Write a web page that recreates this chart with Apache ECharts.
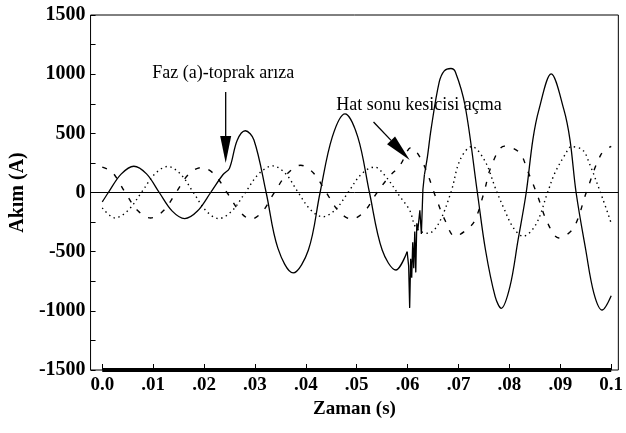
<!DOCTYPE html>
<html><head><meta charset="utf-8">
<script src="https://cdn.jsdelivr.net/npm/echarts@6/dist/echarts.min.js"></script>
<style>html,body{margin:0;padding:0;background:#fff}#c{width:626px;height:433px}</style>
</head><body><div id="c"></div>
<script>
// ---- axis ticks ----
const xTicks = [0, 0.01, 0.02, 0.03, 0.04, 0.05, 0.06, 0.07, 0.08, 0.09, 0.1];
const xTickLabels = ['0.0', '.01', '.02', '.03', '.04', '.05', '.06', '.07', '.08', '.09', '0.1'];
const yTicks = [-1500, -1000, -500, 0, 500, 1000, 1500];

// ---- phase a (solid) ----
const aTime1 = [0, 0.0012, 0.0037, 0.0062, 0.0087, 0.0112, 0.0137, 0.0162, 0.0187, 0.0213, 0.0237, 0.025, 0.0265, 0.0281, 0.0298, 0.0322, 0.0345, 0.0375, 0.0405, 0.0428, 0.0452, 0.0477, 0.0502, 0.0525, 0.055, 0.0577, 0.0599];
const aCur1 = [-80, 0, 155, 222, 157, 0, -155, -220, -157, 0, 150, 205, 440, 522, 444, 0, -470, -680, -486, 0, 470, 665, 470, 0, -486, -655, -500];
const aTime2 = [0.0599, 0.0602, 0.0604, 0.0606, 0.0608, 0.061, 0.0612, 0.0614, 0.0616, 0.0618, 0.062, 0.0624, 0.0627, 0.063, 0.0633];
const aCur2 = [-500, -620, -975, -560, -720, -420, -640, -330, -675, -260, -320, -150, -350, 25, 150];
const aTime3 = [0.0633, 0.0639, 0.0646, 0.0662, 0.0672, 0.0685, 0.0694, 0.0713, 0.0737, 0.0753, 0.0772, 0.0784, 0.0801, 0.0817, 0.0833, 0.0846, 0.0858, 0.0882, 0.0907, 0.0919, 0.0931, 0.095, 0.0966, 0.0982, 0.1];
const aCur3 = [150, 305, 534, 932, 1028, 1048, 1017, 731, 0, -486, -880, -979, -796, -401, 0, 445, 700, 1002, 700, 445, 0, -486, -852, -993, -872];

// ---- phase b (dotted) ----
const bTime = [0, 0.0025, 0.0051, 0.0077, 0.0103, 0.0129, 0.0154, 0.0179, 0.0204, 0.0229, 0.0255, 0.0281, 0.0308, 0.0335, 0.036, 0.0385, 0.0409, 0.0433, 0.0458, 0.0483, 0.0509, 0.0535, 0.0556, 0.0585, 0.0604, 0.0617, 0.064, 0.066, 0.0685, 0.0703, 0.0726, 0.0752, 0.0773, 0.0788, 0.0808, 0.0827, 0.0852, 0.0875, 0.0889, 0.0909, 0.0922, 0.0944, 0.0957, 0.0983, 0.1];
const bCur = [-130, -215, -150, 0, 155, 220, 155, 0, -155, -220, -155, 0, 160, 225, 160, 0, -145, -205, -145, 0, 155, 215, 140, -35, -150, -300, -345, -270, 0, 275, 388, 265, 30, -123, -300, -370, -270, 0, 162, 317, 387, 359, 247, -49, -260];

// ---- phase c (dashed) ----
const cTime = [0, 0.002, 0.0045, 0.007, 0.0095, 0.012, 0.0145, 0.017, 0.0195, 0.022, 0.0245, 0.027, 0.0292, 0.0315, 0.0338, 0.0364, 0.039, 0.0415, 0.044, 0.0465, 0.049, 0.0515, 0.054, 0.0563, 0.0585, 0.0607, 0.063, 0.0657, 0.0673, 0.0693, 0.072, 0.0733, 0.075, 0.0765, 0.079, 0.082, 0.0836, 0.0853, 0.0875, 0.0897, 0.0926, 0.0951, 0.098, 0.1];
const cCur = [215, 170, 0, -155, -215, -155, 0, 155, 210, 155, 0, -160, -225, -160, 0, 160, 230, 165, 0, -160, -225, -160, 0, 130, 230, 380, 250, -60, -230, -370, -300, -229, 0, 230, 392, 336, 180, 0, -257, -384, -299, 0, 322, 390];

// ---- axis bar along bottom ----
const barTime = [0, 0.1];
const barCur = [-1500, -1500];

// ---- annotations ----
const noteTexts = ['Faz (a)-toprak arıza', 'Hat sonu kesicisi açma'];
const notePos = [[0.02376, 1010], [0.06225, 740]];
const arrowFrom = [[0.02425, 850], [0.0533, 596]];
const arrowTo = [[0.02425, 250], [0.0604, 275]];

const zip = (t, v) => t.map((x, i) => [x, v[i]]);
const serif = 'Liberation Serif, Times New Roman, serif';
const solid = { color: '#000', width: 1.3, type: 'solid' };

const chart = echarts.init(document.getElementById('c'), null, { renderer: 'canvas' });
chart.setOption({
  animation: false,
  backgroundColor: '#fff',
  grid: { left: 84, right: 3, top: 15, bottom: 63, show: true, borderColor: '#000', borderWidth: 1, containLabel: false },
  xAxis: {
    type: 'value', min: -0.0023, max: 0.1014,
    name: 'Zaman (s)', nameLocation: 'middle', nameGap: 28,
    nameTextStyle: { fontFamily: serif, fontWeight: 'bold', fontSize: 19, color: '#000' },
    axisLine: { show: false, onZero: false },
    splitLine: { show: false },
    axisTick: { show: true, inside: true, length: 6, customValues: xTicks, lineStyle: { color: '#000', width: 1 } },
    axisLabel: {
      show: true, customValues: xTicks, margin: 6,
      fontFamily: serif, fontWeight: 'bold', fontSize: 19, color: '#000',
      formatter: v => { const i = xTicks.findIndex(x => Math.abs(x - v) < 1e-6); return i >= 0 ? xTickLabels[i] : ''; }
    }
  },
  yAxis: {
    type: 'value', min: -1500, max: 1500, interval: 250,
    name: 'Akım (A)', nameLocation: 'middle', nameGap: 54, nameRotate: 90,
    nameTextStyle: { fontFamily: serif, fontWeight: 'bold', fontSize: 20, color: '#000' },
    axisLine: { show: false, onZero: false },
    splitLine: { show: false },
    axisTick: { show: true, inside: true, length: 5, lineStyle: { color: '#000', width: 1 } },
    axisLabel: { margin: 5, fontFamily: serif, fontWeight: 'bold', fontSize: 20, color: '#000', showMinLabel: true, showMaxLabel: true,
      formatter: v => yTicks.includes(v) ? String(v) : '' }
  },
  series: [
    { name: 'b', type: 'line', data: zip(bTime, bCur), smooth: 0.35, showSymbol: false,
      lineStyle: { color: '#000', width: 1.4, type: [1.4, 3.6] }, z: 2 },
    { name: 'c', type: 'line', data: zip(cTime, cCur), smooth: 0.35, showSymbol: false,
      lineStyle: { color: '#000', width: 1.4, type: [5, 9] }, z: 2 },
    { name: 'a1', type: 'line', data: zip(aTime1, aCur1), smooth: 0.35, showSymbol: false, lineStyle: solid, z: 3,
      markLine: { silent: true, symbol: 'none', label: { show: false }, lineStyle: { color: '#000', width: 1, type: 'solid' }, data: [{ yAxis: 0 }] } },
    { name: 'a2', type: 'line', data: zip(aTime2, aCur2), smooth: false, showSymbol: false, lineStyle: solid, z: 3 },
    { name: 'a3', type: 'line', data: zip(aTime3, aCur3), smooth: 0.35, showSymbol: false, lineStyle: solid, z: 3 },
    { name: 'bar', type: 'line', data: zip(barTime, barCur), showSymbol: false, clip: false,
      lineStyle: { color: '#000', width: 4, type: 'solid', cap: 'butt' }, z: 4 }
  ]
});

// annotations placed from data coordinates
const px = p => chart.convertToPixel({ gridIndex: 0 }, p);
const g = [];
noteTexts.forEach((txt, i) => {
  const p = px(notePos[i]);
  g.push({ type: 'text', x: p[0], y: p[1], z: 10,
    style: { text: txt, font: '18px ' + serif, fill: '#000', align: 'center', verticalAlign: 'middle' } });
  const a = px(arrowFrom[i]), b = px(arrowTo[i]);
  const dx = b[0] - a[0], dy = b[1] - a[1], L = Math.hypot(dx, dy);
  const ux = dx / L, uy = dy / L, nx = -uy, ny = ux;
  const hl = 27, hw = 5.5;
  const bx = b[0] - ux * hl, by = b[1] - uy * hl;
  g.push({ type: 'line', z: 10, shape: { x1: a[0], y1: a[1], x2: bx, y2: by }, style: { stroke: '#000', lineWidth: 1.3 } });
  g.push({ type: 'polygon', z: 10, shape: { points: [[b[0], b[1]], [bx + nx * hw, by + ny * hw], [bx - nx * hw, by - ny * hw]] }, style: { fill: '#000' } });
});
chart.setOption({ graphic: g });
</script>
</body></html>
